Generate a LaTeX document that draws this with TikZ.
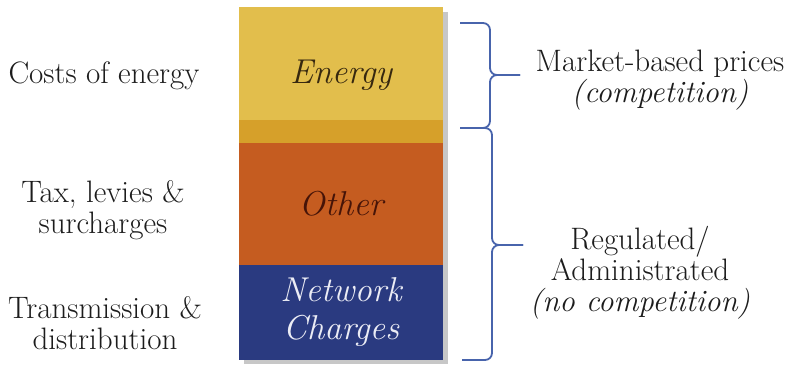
\documentclass[tikz,border=0pt]{standalone}
\usepackage{xcolor}
\definecolor{energycol}{RGB}{226,190,76}
\definecolor{stripcol}{RGB}{214,160,42}
\definecolor{othercol}{RGB}{197,92,32}
\definecolor{netcol}{RGB}{42,58,128}
\definecolor{bracecol}{RGB}{72,100,172}
\definecolor{txtcol}{RGB}{28,28,28}

\begin{document}
\begin{tikzpicture}[x=1pt,y=-1pt,
	bar/.style={rectangle,inner sep=0pt,minimum width=204pt,font=\fontsize{34.5}{38}\selectfont\itshape,align=center},
	lab/.style={text=txtcol,font=\fontsize{31}{31}\selectfont,align=center,inner sep=0pt},
	brace/.style={bracecol,line width=1.8pt,rounded corners=7pt}]
		\useasboundingbox (0,0) rectangle (791,368);
		
		% shadow behind the column
		\fill[black!22] (244,12) rectangle (448,364);
		
		\node[bar,fill=energycol,minimum height=136pt,text={rgb,255:red,55;green,40;blue,15}] (energy) at (341,75) {Energy};
		\node[bar,fill=stripcol,minimum height=23pt] (strip) at (341,131.5) {};
		\node[bar,fill=othercol,minimum height=122.5pt,text={rgb,255:red,70;green,20;blue,8}] (other) at (341,204) {Other};
		\node[bar,fill=netcol,minimum height=95pt,text={rgb,255:red,235;green,236;blue,245}] (network) at (341,312.5) {Network\\Charges};
		
		\node[lab] (costs) at (104,76) {Costs of energy};
		\node[lab] (tax) at (103,210) {Tax, levies \&\\surcharges};
		\node[lab] (trans) at (105,323.5) {Transmission \&\\distribution};
		
		\coordinate (b1) at (460,23);
		\coordinate (b2) at (460,128);
		\coordinate (b3) at (462,360);
		\coordinate (m1) at (490,75);
		\coordinate (m2) at (492,245);
		\coordinate (t1) at (520,75);
		\coordinate (t2) at (523,245);
		\draw[brace] (b1) -| (m1) -- (t1);
		\draw[brace] (b2) -| (m1) -- (t1);
		\draw[brace] (b2) -| (m2) -- (t2);
		\draw[brace] (b3) -| (m2) -- (t2);
		
		\node[lab] (market) at (660,80.5) {Market-based prices\\\textit{(competition)}};
		\node[lab] (regul) at (640,272.5) {Regulated/\\Administrated\\\textit{(no competition)}};
	\end{tikzpicture}
\end{document}
